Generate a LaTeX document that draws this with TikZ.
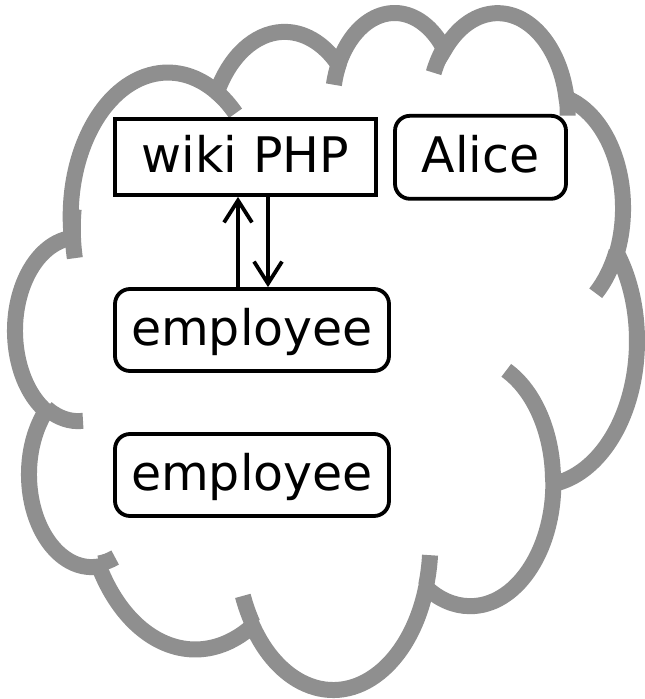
\documentclass[tikz,border=0pt]{standalone}
\usepackage{fontspec}
\setmainfont{DejaVu Sans}
\usetikzlibrary{arrows.meta}
\definecolor{cloudgray}{RGB}{143,143,143}
% visual (OOXML) angle -> parametric angle for an ellipse
\newcommand\mkarc[6]{%
  \pgfmathsetmacro\mkth{#5}%
  \pgfmathsetmacro#1{\mkth+Mod(atan2((#3)*sin(\mkth),(#4)*cos(\mkth))-\mkth+180,360)-180}%
  \pgfmathsetmacro\mkth{#5+#6}%
  \pgfmathsetmacro#2{\mkth+Mod(atan2((#3)*sin(\mkth),(#4)*cos(\mkth))-\mkth+180,360)-180}%
}
\begin{document}
\begin{tikzpicture}[x=1pt,y=-1pt,
  cloud/.style={draw=cloudgray,line width=16pt},
  box/.style={draw=black,line width=3.8pt,fill=white,inner sep=0pt,
    font=\fontsize{49}{59}\selectfont,text height=35pt,text depth=5pt},
  rbox/.style={box,rounded corners=15pt},
  arr/.style={line width=3.8pt,-{Straight Barb[length=22pt,width=28pt]}}]
\fill[white] (0,0) rectangle (645,699);
\useasboundingbox (0,0) rectangle (645,699);
% main outline arcs
\mkarc\aAs\aAe{6.753}{9.190}{-190.4875}{123.7805}
\mkarc\aBs\aBe{5.333}{7.267}{-144.1024}{89.9452}
\mkarc\aCs\aCe{4.365}{5.945}{-145.8079}{99.7230}
\mkarc\aDs\aDe{4.857}{6.595}{-130.9861}{117.2417}
\mkarc\aEs\aEe{5.333}{7.273}{-78.7089}{109.0269}
\mkarc\aFs\aFe{6.775}{9.220}{-46.2673}{130.2690}
\mkarc\aGs\aGe{5.785}{7.867}{0.6250}{114.0333}
\mkarc\aHs\aHe{6.752}{9.215}{22.4516}{115.1726}
\mkarc\aIs\aIe{7.720}{10.543}{66.2426}{75.7110}
\mkarc\aJs\aJe{4.360}{5.918}{-274.9421}{146.7356}
\mkarc\aKs\aKe{4.345}{5.945}{-246.8285}{152.5189}
% inner arcs
\mkarc\bAs\bAe{4.345}{5.945}{86.7420}{26.4295}
\mkarc\bBs\bBe{4.360}{5.918}{73.6105}{11.4475}
\mkarc\bCs\bCe{6.752}{9.215}{137.6242}{14.0811}
\mkarc\bDs\bDe{6.752}{9.215}{6.4533}{15.9984}
\mkarc\bEs\bEe{5.785}{7.867}{-70.2924}{70.9174}
\mkarc\bFs\bFe{5.333}{7.273}{30.3180}{27.7515}
\mkarc\bGs\bGe{4.857}{6.595}{-13.7443}{14.8589}
\mkarc\bHs\bHe{4.857}{6.595}{-149.1815}{18.1954}
\mkarc\bIs\bIe{4.365}{5.945}{-163.4943}{17.6864}
\mkarc\bJs\bJe{6.753}{9.190}{-66.7070}{12.3194}
\mkarc\bKs\bKe{6.753}{9.190}{164.0019}{26.3983}
\begin{scope}[shift={(15.5,10.8)},x=14.38pt,y=-15.665pt]
\draw[cloud] (3.900,14.370)
  arc[x radius=6.753,y radius=9.190,start angle=\aAs,end angle=\aAe]
  arc[x radius=5.333,y radius=7.267,start angle=\aBs,end angle=\aBe]
  arc[x radius=4.365,y radius=5.945,start angle=\aCs,end angle=\aCe]
  arc[x radius=4.857,y radius=6.595,start angle=\aDs,end angle=\aDe]
  arc[x radius=5.333,y radius=7.273,start angle=\aEs,end angle=\aEe]
  arc[x radius=6.775,y radius=9.220,start angle=\aFs,end angle=\aFe]
  arc[x radius=5.785,y radius=7.867,start angle=\aGs,end angle=\aGe]
  arc[x radius=6.752,y radius=9.215,start angle=\aHs,end angle=\aHe]
  arc[x radius=7.720,y radius=10.543,start angle=\aIs,end angle=\aIe]
  arc[x radius=4.360,y radius=5.918,start angle=\aJs,end angle=\aJe]
  arc[x radius=4.345,y radius=5.945,start angle=\aKs,end angle=\aKe]
  -- cycle;
\draw[cloud] (4.693,26.177) arc[x radius=4.345,y radius=5.945,start angle=\bAs,end angle=\bAe];
\draw[cloud] (6.928,34.899) arc[x radius=4.360,y radius=5.918,start angle=\bBs,end angle=\bBe];
\draw[cloud] (16.478,39.090) arc[x radius=6.752,y radius=9.215,start angle=\bCs,end angle=\bCe];
\draw[cloud] (28.827,34.751) arc[x radius=6.752,y radius=9.215,start angle=\bDs,end angle=\bDe];
\draw[cloud] (34.129,22.954) arc[x radius=5.785,y radius=7.867,start angle=\bEs,end angle=\bEe];
\draw[cloud] (41.798,15.354) arc[x radius=5.333,y radius=7.273,start angle=\bFs,end angle=\bFe];
\draw[cloud] (38.324,5.426) arc[x radius=4.857,y radius=6.595,start angle=\bGs,end angle=\bGe];
\draw[cloud] (29.078,3.952) arc[x radius=4.857,y radius=6.595,start angle=\bHs,end angle=\bHe];
\draw[cloud] (22.141,4.720) arc[x radius=4.365,y radius=5.945,start angle=\bIs,end angle=\bIe];
\draw[cloud] (14.000,5.192) arc[x radius=6.753,y radius=9.190,start angle=\bJs,end angle=\bJe];
\draw[cloud] (4.127,15.789) arc[x radius=6.753,y radius=9.190,start angle=\bKs,end angle=\bKe];
\end{scope}
% boxes
\node[box,minimum width=261pt,minimum height=76pt] (wiki) at (245.5,157) {wiki PHP};
\node[rbox,minimum width=171pt,minimum height=83pt] (alice) at (480.5,157.3) {Alice};
\node[rbox,minimum width=274pt,minimum height=82pt] (emp1) at (252,330) {employee};
\node[rbox,minimum width=274pt,minimum height=82pt] (emp2) at (252,475) {employee};
% connectors
\coordinate (upx) at (238,0);
\coordinate (dnx) at (268,0);
\draw[arr] (emp1.north -| upx) -- (wiki.south -| upx);
\draw[arr] (wiki.south -| dnx) -- (emp1.north -| dnx);
\end{tikzpicture}
\end{document}
